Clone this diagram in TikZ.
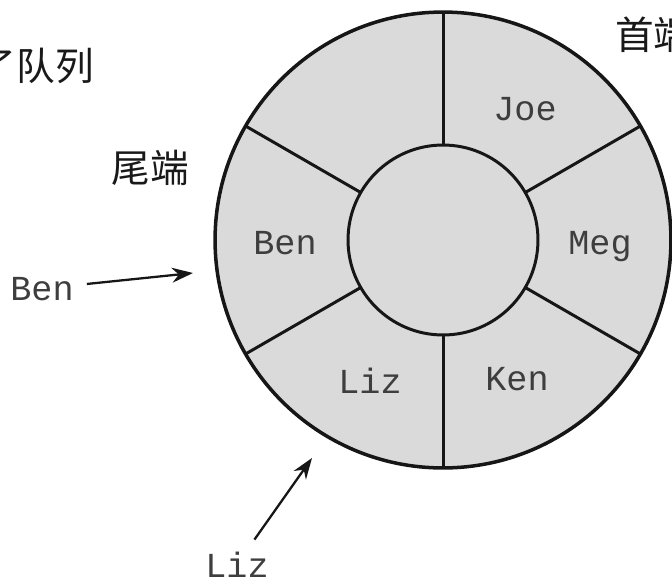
\documentclass[tikz,border=0pt]{standalone}
\usepackage{fontspec}
\setmonofont{Liberation Mono}
\newfontfamily\cjkfont{Noto Sans CJK SC}
\usetikzlibrary{arrows.meta}
\definecolor{ringfill}{RGB}{218,218,218}
\definecolor{ringline}{RGB}{22,22,22}
\definecolor{namegray}{RGB}{62,62,62}
\definecolor{cjkgray}{RGB}{25,25,25}
\tikzset{
  rimring/.style={circle, draw=ringline, fill=ringfill, line width=2pt,
                  inner sep=0pt, outer sep=0pt, minimum size=9.12cm},
  hubring/.style={circle, draw=ringline, fill=ringfill, line width=1.7pt,
                  inner sep=0pt, outer sep=0pt, minimum size=3.8cm},
  spoke/.style={ringline, line width=1.7pt},
  who/.style={font=\ttfamily\fontsize{20}{24}\selectfont, text=namegray, anchor=base},
  endlab/.style={font=\cjkfont\fontsize{22}{26}\selectfont, text=cjkgray},
  ptr/.style={-{Stealth[length=12pt, width=8.5pt]}, ringline, line width=1.3pt, shorten <=4pt},
}
\begin{document}
\begin{tikzpicture}[x=0.02cm, y=-0.02cm]
    \useasboundingbox (0,0) rectangle (672,585);
    \node[rimring] (rim) at (443,240) {};
    \node[hubring] (hub) at (443,240) {};
    \foreach \a in {30,90,...,330}
      \draw[spoke] (hub.\a) -- (rim.\a);
    \node[who] (joe) at (525,120) {Joe};
    \node[who] (meg) at (600,254) {Meg};
    \node[who] (ken) at (517,390) {Ken};
    \node[who] (liz) at (370,393) {Liz};
    \node[who] (ben) at (285,254) {Ben};
    \node[who] (benlbl) at (42,300) {Ben};
    \node[who] (lizlbl) at (237,577) {Liz};
    \coordinate (benend) at (193,273);
    \coordinate (lizend) at (312,458);
    \draw[ptr] (benlbl) -- (benend);
    \draw[ptr] (lizlbl) -- (lizend);
    \node[endlab] (tail) at (150,168) {尾端};
    \node[endlab, anchor=west] (head) at (609,35) {首端};
    \node[endlab, anchor=east] (queue) at (100,66) {了队列};
\end{tikzpicture}
\end{document}
